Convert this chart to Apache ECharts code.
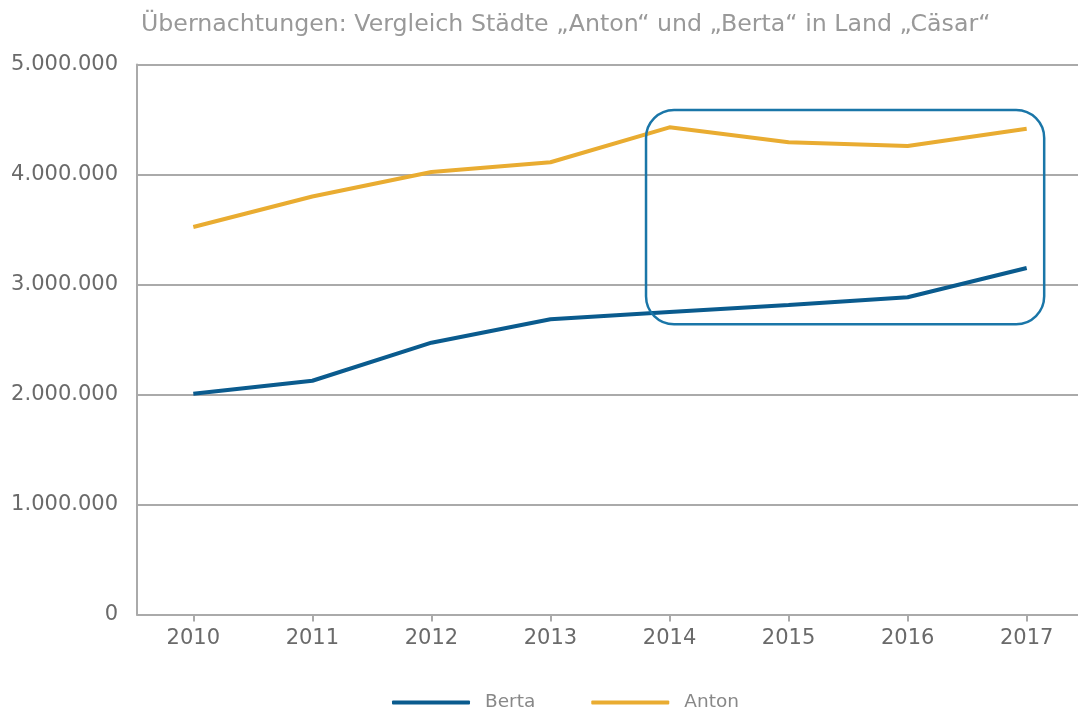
<!DOCTYPE html>
<html>
<head>
<meta charset="utf-8">
<script src="https://cdn.jsdelivr.net/npm/echarts@6/dist/echarts.min.js"></script>
<style>
  html, body { margin: 0; padding: 0; background: #fff; }
  #chart { width: 1078px; height: 710px; }
</style>
</head>
<body>
<div id="chart"></div>
<script>
const years = [2010, 2011, 2012, 2013, 2014, 2015, 2016, 2017];
const berta = [2007000, 2125000, 2471000, 2684000, 2750000, 2814000, 2884000, 3150000];
const anton = [3523000, 3800000, 4023000, 4111000, 4429000, 4293000, 4259000, 4416000];
const yTicks = [0, 1000000, 2000000, 3000000, 4000000, 5000000];
// highlighted range: years and value band
const boxYears = [2014, 2017];
const boxValues = [2638000, 4586000];

const fmt = v => String(v).replace(/\B(?=(\d{3})+(?!\d))/g, '.');
const pairs = vals => years.map((y, i) => [y, vals[i]]);

// 基于准备好的dom，初始化echarts实例
const myChart = echarts.init(document.getElementById('chart'));
const option = {
    animation: false,
    title: {
        text: 'Übernachtungen: Vergleich Städte „Anton“ und „Berta“ in Land „Cäsar“',
        left: 136,
        top: 8,
        textStyle: { fontFamily: 'DejaVu Sans', fontSize: 23.7, fontWeight: 'normal', color: '#999' }
    },
    legend: {
        top: 688,
        left: 387,
        data: ['Berta', 'Anton'],
        itemWidth: 78,
        itemHeight: 4,
        itemGap: 56,
        icon: 'roundRect',
        textStyle: { fontFamily: 'DejaVu Sans', fontSize: 18.5, color: '#888', padding: [0, 0, 0, 10] }
    },
    grid: { left: 137, top: 64.5, right: 0, height: 550 },
    xAxis: {
        type: 'value',
        // half a year of room either side, as in a category axis
        min: 2009.527,
        max: 2017.431,
        splitLine: { show: false },
        axisLine: { onZero: false, lineStyle: { color: '#aaa', width: 2 } },
        axisTick: { show: true, customValues: years, length: 7, lineStyle: { color: '#aaa', width: 2 } },
        axisLabel: { customValues: years, fontFamily: 'DejaVu Sans', fontSize: 21, color: '#6a6a6a', margin: 14, formatter: v => String(v) }
    },
    yAxis: {
        type: 'value',
        min: yTicks[0],
        max: yTicks[yTicks.length - 1],
        interval: 1000000,
        axisLine: { show: true, lineStyle: { color: '#aaa', width: 2 } },
        axisTick: { show: false },
        splitLine: { lineStyle: { color: '#aaa', width: 2 } },
        axisLabel: { fontFamily: 'DejaVu Sans', fontSize: 21, color: '#6a6a6a', margin: 19, formatter: fmt }
    },
    series: [
        { name: 'Berta', type: 'line', data: pairs(berta), symbol: 'none', lineStyle: { width: 4, color: '#0a5b8e' }, itemStyle: { color: '#0a5b8e' } },
        { name: 'Anton', type: 'line', data: pairs(anton), symbol: 'none', lineStyle: { width: 4, color: '#e9ac31' }, itemStyle: { color: '#e9ac31' } }
    ]
};
// 绘制图表
myChart.setOption(option);

// rounded box round the highlighted years
const p1 = myChart.convertToPixel({ gridIndex: 0 }, [boxYears[0], boxValues[1]]);
const p2 = myChart.convertToPixel({ gridIndex: 0 }, [boxYears[1], boxValues[0]]);
const x0 = p1[0] - 23.5, x1 = p2[0] + 17.5;
myChart.setOption({
    graphic: [{
        type: 'rect',
        shape: { x: x0, y: p1[1], width: x1 - x0, height: p2[1] - p1[1], r: 28 },
        style: { fill: 'none', stroke: '#1a76a8', lineWidth: 2.5 },
        z: 100
    }]
});
</script>
</body>
</html>
